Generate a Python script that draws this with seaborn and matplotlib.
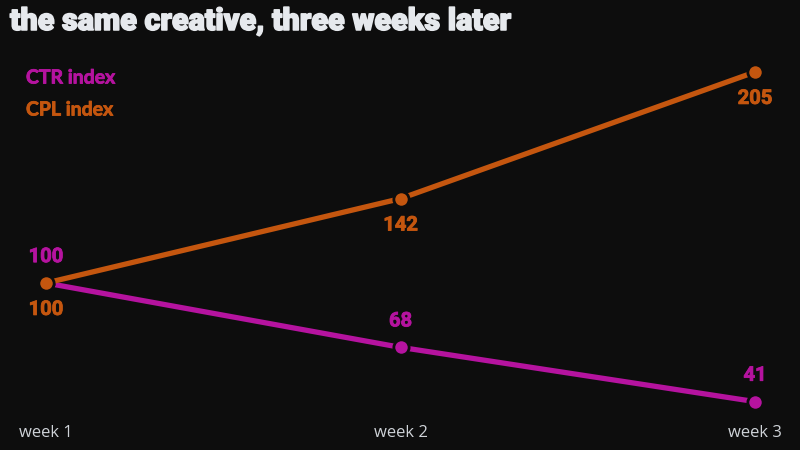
import matplotlib
matplotlib.use("Agg")
import matplotlib.pyplot as plt
import matplotlib.patheffects as pe
import seaborn as sns
import pandas as pd

weeks = ["week 1", "week 2", "week 3"]
ctr_index = [100, 68, 41]
cpl_index = [100, 142, 205]
series_names = ["CTR index", "CPL index"]

BG = "#0d0d0d"
MAGENTA = "#b5139f"
ORANGE = "#c4560f"
TITLE_C = "#e6e9ed"
TICK_C = "#cfd3d8"

df = pd.DataFrame({
    "x": list(range(len(weeks))) * 2,
    "value": ctr_index + cpl_index,
    "series": [series_names[0]] * len(weeks) + [series_names[1]] * len(weeks),
})

sns.set_theme(style="dark")
plt.rcParams["font.family"] = ["Lato", "DejaVu Sans"]

fig = plt.figure(figsize=(8, 4.5), dpi=100, facecolor=BG)
ax = fig.add_axes([46 / 800, 1 - 401.6 / 450, 709 / 800, (401.6 - 72) / 450])
ax.set_facecolor(BG)

palette = {series_names[0]: MAGENTA, series_names[1]: ORANGE}
sns.lineplot(data=df, x="x", y="value", hue="series", palette=palette,
             marker="o", markersize=11, markeredgecolor=BG, markeredgewidth=2,
             linewidth=3.8, legend=False, ax=ax, clip_on=False)
for ln in ax.lines:
    ln.set_clip_on(False)

ax.set_xlim(0, 2)
ax.set_ylim(41, 205)
ax.set_xticks(range(len(weeks)))
ax.set_xticklabels(weeks)
ax.set_yticks([])
ax.tick_params(axis="x", length=0, pad=17, labelsize=12, colors=TICK_C)
for t in ax.get_xticklabels():
    t.set_fontfamily(["Open Sans", "DejaVu Sans"])
ax.set_xlabel("")
ax.set_ylabel("")
ax.grid(False)
for s in ax.spines.values():
    s.set_visible(False)

def heavy(color, w):
    return [pe.withStroke(linewidth=w, foreground=color)]

for i, v in enumerate(ctr_index):
    ax.annotate(str(v), (i, v), xytext=(0, 19), textcoords="offset points",
                ha="center", va="center", color=MAGENTA, fontsize=14.5,
                fontweight="bold", family=["Roboto", "DejaVu Sans"],
                path_effects=heavy(MAGENTA, 0.6))
for i, v in enumerate(cpl_index):
    ax.annotate(str(v), (i, v), xytext=(0, -19), textcoords="offset points",
                ha="center", va="center", color=ORANGE, fontsize=14.5,
                fontweight="bold", family=["Roboto", "DejaVu Sans"],
                path_effects=heavy(ORANGE, 0.6))

fig.text(10 / 800, 1 - 21 / 450, "the same creative, three weeks later",
         color=TITLE_C, fontsize=22, fontweight=900, ha="left", va="center",
         family=["Roboto", "DejaVu Sans"], path_effects=heavy(TITLE_C, 1.1))
fig.text(26 / 800, 1 - 78 / 450, series_names[0], color=MAGENTA, fontsize=14,
         fontweight="bold", ha="left", va="center", path_effects=heavy(MAGENTA, 0.6))
fig.text(26 / 800, 1 - 110 / 450, series_names[1], color=ORANGE, fontsize=14,
         fontweight="bold", ha="left", va="center", path_effects=heavy(ORANGE, 0.6))

fig.savefig("out.png", dpi=100, facecolor=BG)
